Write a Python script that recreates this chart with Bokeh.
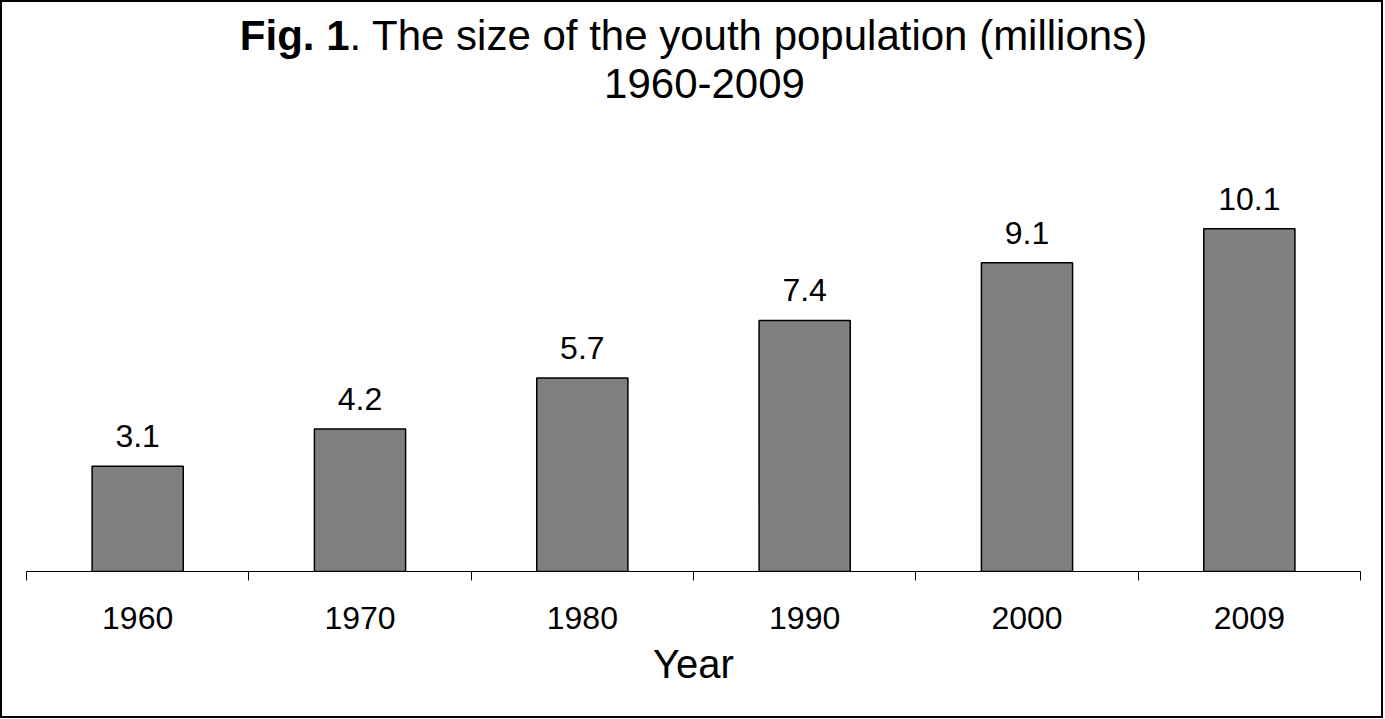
from bokeh.plotting import figure
from bokeh.models import Range1d, FixedTicker, ColumnDataSource
from bokeh.core.properties import value
from bokeh.embed import file_html
from bokeh.resources import INLINE

# ---- data ----
years = ["1960", "1970", "1980", "1990", "2000", "2009"]
population = [3.1, 4.2, 5.7, 7.4, 9.1, 10.1]
value_labels = ["3.1", "4.2", "5.7", "7.4", "9.1", "10.1"]
title_bold = "Fig. 1"
title_rest = ". The size of the youth population (millions)"
title_line2 = "1960-2009"
x_label = "Year"

FONT = value("Liberation Sans")

centers = [i + 0.5 for i in range(len(years))]
boundaries = list(range(len(years) + 1))

src = ColumnDataSource(dict(x=centers, top=population, label=value_labels))

p = figure(width=1383, height=718, output_backend="svg", toolbar_location=None,
           x_range=Range1d(0, len(years)), y_range=Range1d(0, 16.77),
           min_border_left=24, min_border_right=25, min_border_top=0,
           min_border_bottom=149, y_axis_location=None,
           background_fill_color="white", border_fill_color="white")
p.styles = {"border": "2px solid black", "box-sizing": "border-box"}
p.outline_line_color = None
p.xgrid.visible = False
p.ygrid.visible = False

p.vbar(x="x", top="top", width=0.41, bottom=0, source=src,
       fill_color="#808080", line_color="black", line_width=1.5)

p.text(x="x", y="top", text="label", source=src, y_offset=-30,
       text_font=FONT, text_font_size="32px", text_color="black",
       text_align="center", text_baseline="alphabetic")

# title
mid = len(years) / 2
p.text(x=[mid], y=[15.81], text=[title_bold], x_offset=-344,
       text_font=FONT, text_font_style="bold", text_font_size="42px",
       text_color="black", text_align="right", text_baseline="alphabetic")
p.text(x=[mid], y=[15.81], text=[title_rest], x_offset=-344,
       text_font=FONT, text_font_size="42px",
       text_color="black", text_align="left", text_baseline="alphabetic")
p.text(x=[mid], y=[14.39], text=[title_line2], x_offset=11,
       text_font=FONT, text_font_size="42px",
       text_color="black", text_align="center", text_baseline="alphabetic")

ax = p.xaxis[0]
ax.ticker = FixedTicker(ticks=centers, minor_ticks=boundaries)
ax.major_label_overrides = dict(zip(centers, years))
ax.axis_line_color = "black"
ax.axis_line_width = 1
ax.major_tick_out = 0
ax.major_tick_in = 0
ax.minor_tick_out = 9
ax.minor_tick_in = 0
ax.minor_tick_line_color = "black"
ax.major_label_standoff = 26
ax.major_label_text_font = "Liberation Sans"
ax.major_label_text_font_size = "32px"
ax.major_label_text_color = "black"
ax.axis_label = x_label
ax.axis_label_standoff = 10
ax.axis_label_text_font = "Liberation Sans"
ax.axis_label_text_font_size = "40px"
ax.axis_label_text_font_style = "normal"
ax.axis_label_text_color = "black"

open("out.html", "w").write(file_html(p, INLINE))
